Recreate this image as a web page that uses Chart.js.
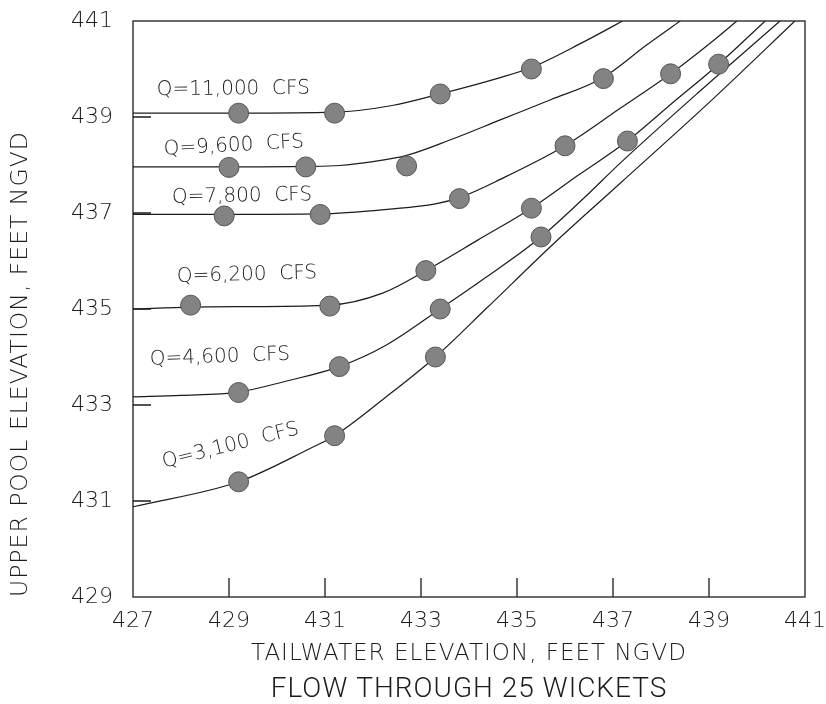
<!DOCTYPE html>
<html><head><meta charset="utf-8">
<script src="https://cdn.jsdelivr.net/npm/chart.js@4"></script>
<style>html,body{margin:0;padding:0;background:#fff}canvas{display:block}</style>
</head><body>
<canvas id="c" width="826" height="704"></canvas>
<script>
// ---- tick values ----
const xTicks = [427, 429, 431, 433, 435, 437, 439, 441];
const yTicks = [429, 431, 433, 435, 437, 439, 441];

// ---- curve labels ----
const flowLabels = ['Q=11,000  CFS', 'Q=9,600  CFS', 'Q=7,800  CFS', 'Q=6,200  CFS', 'Q=4,600  CFS', 'Q=3,100  CFS'];

// ---- observed points (tailwater, upper pool) ----
const obs11000X = [429.2, 431.2, 433.4, 435.3];
const obs11000Y = [439.08, 439.08, 439.48, 440.0];
const obs9600X = [429.0, 430.6, 432.7, 436.8];
const obs9600Y = [437.95, 437.96, 437.98, 439.8];
const obs7800X = [428.9, 430.9, 433.8, 436.0, 438.2];
const obs7800Y = [436.94, 436.97, 437.3, 438.4, 439.9];
const obs6200X = [428.2, 431.1, 433.1, 435.3, 437.3, 439.2];
const obs6200Y = [435.08, 435.06, 435.8, 437.1, 438.5, 440.1];
const obs4600X = [429.2, 431.3, 433.4, 435.5];
const obs4600Y = [433.26, 433.8, 435.0, 436.5];
const obs3100X = [429.2, 431.2, 433.3];
const obs3100Y = [431.4, 432.36, 434.0];

// ---- rating curves ----
const curve11000X = [427, 429.2, 431.2, 432.4, 433.4, 434.65, 435.3, 436.38, 437.2];
const curve11000Y = [439.08, 439.08, 439.1, 439.24, 439.48, 439.82, 440.03, 440.56, 441.0];
const curve9600X = [427, 429, 430.6, 431.3, 432, 432.7, 433.6, 434.65, 435.7, 436.76, 437.7, 438.4];
const curve9600Y = [437.96, 437.96, 437.97, 437.99, 438.07, 438.2, 438.52, 438.94, 439.36, 439.8, 440.5, 441.0];
const curve7800X = [427, 428.9, 430.9, 432.35, 433.3, 433.8, 434.65, 436.0, 437.15, 438.2, 439.1, 439.58];
const curve7800Y = [436.97, 436.97, 436.98, 437.08, 437.19, 437.32, 437.7, 438.4, 439.18, 439.9, 440.6, 441.0];
const curve6200X = [427, 428.2, 429.5, 431.1, 432.2, 433.1, 434.19, 435.3, 436.28, 437.3, 438.2, 439.2, 440.17];
const curve6200Y = [435.0, 435.04, 435.05, 435.08, 435.33, 435.8, 436.44, 437.1, 437.79, 438.5, 439.26, 440.1, 441.0];
const curve4600X = [427, 428, 429.2, 430.2, 431.3, 432.28, 433.4, 434.37, 435.5, 436.35, 437.15, 438.8, 440.48];
const curve4600Y = [433.17, 433.2, 433.27, 433.5, 433.8, 434.25, 435.0, 435.67, 436.5, 437.27, 438.04, 439.53, 441.0];
const curve3100X = [427, 429.2, 430.7, 431.2, 432.25, 433.3, 434.37, 435.75, 437.15, 439.0, 440.79];
const curve3100Y = [430.88, 431.4, 432.1, 432.36, 433.15, 434.0, 435.02, 436.35, 437.62, 439.3, 441.0];

// ---- label anchors (data units) ----
const labelAnchorX = [429.09, 429.10, 429.27, 429.375, 428.81, 429.03];
const labelAnchorY = [439.58, 438.40, 437.35, 435.71, 434.0, 432.15];
const labelAngleDeg = [-0.5, -3, -1, -1.5, -2, -14];

const pairs = (xs, ys) => xs.map((x, i) => ({x, y: ys[i]}));
const curves = [
  [curve11000X, curve11000Y], [curve9600X, curve9600Y], [curve7800X, curve7800Y],
  [curve6200X, curve6200Y], [curve4600X, curve4600Y], [curve3100X, curve3100Y]
];
const obs = [
  [obs11000X, obs11000Y], [obs9600X, obs9600Y], [obs7800X, obs7800Y],
  [obs6200X, obs6200Y], [obs4600X, obs4600Y], [obs3100X, obs3100Y]
];

const FONT = "'DejaVu Sans', 'Liberation Sans', sans-serif";
const INK = '#1c1c1c';

const datasets = [];
curves.forEach(([xs, ys], i) => datasets.push({
  label: flowLabels[i] + ' curve', data: pairs(xs, ys), showLine: true,
  cubicInterpolationMode: 'monotone', borderColor: INK, borderWidth: 1.2,
  pointRadius: 0, order: 2
}));
obs.forEach(([xs, ys], i) => datasets.push({
  label: flowLabels[i], data: pairs(xs, ys), showLine: false,
  pointRadius: 10, pointBackgroundColor: '#838383', pointBorderColor: '#555555',
  pointBorderWidth: 1, order: 1
}));

const framePlugin = {
  id: 'frame',
  beforeDraw(chart) { chart.ctx.letterSpacing = '1px'; },
  beforeDatasetsDraw(chart) {
    const {ctx, chartArea: a, scales: {x, y}} = chart;
    ctx.save();
    ctx.letterSpacing = '0px';
    ctx.strokeStyle = INK; ctx.lineWidth = 1.3;
    ctx.strokeRect(a.left, a.top, a.right - a.left, a.bottom - a.top);
    ctx.beginPath();
    xTicks.slice(1, -1).forEach(v => {
      const px = x.getPixelForValue(v);
      ctx.moveTo(px, a.bottom); ctx.lineTo(px, a.bottom - 19);
    });
    yTicks.slice(1, -1).forEach(v => {
      const py = y.getPixelForValue(v);
      ctx.moveTo(a.left, py); ctx.lineTo(a.left + 18, py);
    });
    ctx.stroke();
    // curve labels
    ctx.fillStyle = INK;
    ctx.font = `200 20px ${FONT}`;
    ctx.textAlign = 'center'; ctx.textBaseline = 'middle';
    flowLabels.forEach((t, i) => {
      ctx.save();
      ctx.translate(x.getPixelForValue(labelAnchorX[i]), y.getPixelForValue(labelAnchorY[i]));
      ctx.rotate(labelAngleDeg[i] * Math.PI / 180);
      ctx.fillText(t, 0, 0);
      ctx.restore();
    });
    ctx.restore();
  },
  afterDatasetsDraw(chart) { chart.ctx.letterSpacing = '0px'; }
};

new Chart(document.getElementById('c'), {
  type: 'scatter',
  data: {datasets},
  options: {
    responsive: false, animation: false,
    layout: {padding: {left: 0, right: 21, top: 21, bottom: 0}},
    plugins: {
      legend: {display: false}, tooltip: {enabled: false},
      title: {
        display: true, position: 'bottom', fullSize: false,
        text: 'FLOW THROUGH 25 WICKETS', color: INK,
        font: {family: "Roboto, 'DejaVu Sans', sans-serif", size: 28, weight: '300', lineHeight: 1},
        padding: {top: 2, bottom: 0}
      }
    },
    scales: {
      x: {
        type: 'linear', min: 427, max: 441,
        afterBuildTicks: s => { s.ticks = xTicks.map(v => ({value: v})); },
        afterFit: s => { s.height = 77; s.paddingLeft = 0; s.paddingRight = 0; },
        grid: {display: false, drawTicks: false},
        border: {display: false},
        ticks: {z: 1, padding: 11, color: INK, font: {family: FONT, size: 22, weight: '200'}, maxRotation: 0, autoSkip: false},
        title: {display: true, text: 'TAILWATER ELEVATION, FEET NGVD', color: INK,
          font: {family: FONT, size: 23, weight: '200'}, padding: {top: 0, bottom: 6}}
      },
      y: {
        type: 'linear', min: 429, max: 441,
        afterBuildTicks: s => { s.ticks = yTicks.map(v => ({value: v})); },
        afterFit: s => { s.width = 133; s.paddingTop = 0; s.paddingBottom = 0; },
        grid: {display: false, drawTicks: false},
        border: {display: false},
        ticks: {z: 1, padding: 20, color: INK, font: {family: FONT, size: 22, weight: '200'}, autoSkip: false},
        title: {display: true, text: 'UPPER POOL ELEVATION, FEET NGVD', align: 'start', color: INK,
          font: {family: FONT, size: 23.5, weight: '200'}, padding: {top: 7, bottom: 0}}
      }
    }
  },
  plugins: [framePlugin]
});
</script>
</body></html>
